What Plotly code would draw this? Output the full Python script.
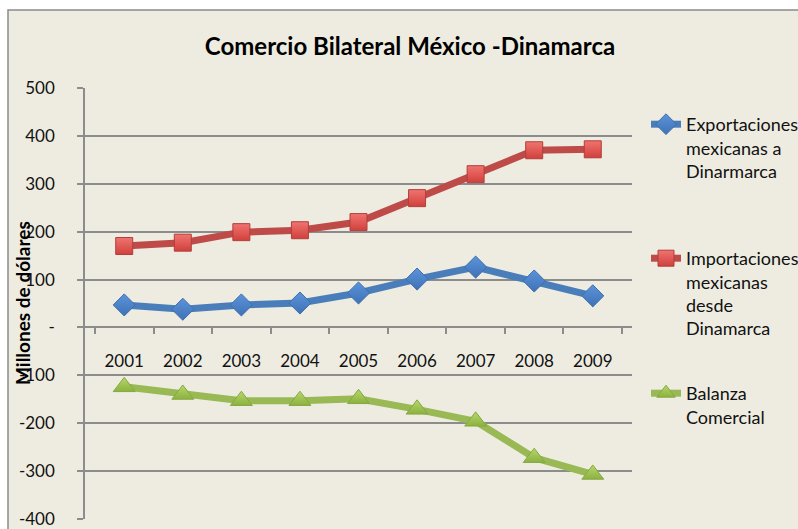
import plotly.graph_objects as go

years = ["2001", "2002", "2003", "2004", "2005", "2006", "2007", "2008", "2009"]
exportaciones = [47, 38, 47, 51, 72, 101, 126, 97, 66]
importaciones = [170, 177, 199, 203, 220, 270, 320, 370, 372]
balanza = [-124, -140, -153, -153, -149, -171, -196, -272, -307]

y_tickvals = [500, 400, 300, 200, 100, 0, -100, -200, -300, -400]
y_ticktext = ["500", "400", "300", "200", "100", "-", "-100", "-200", "-300", "-400"]

names = [
    "Exportaciones<br>mexicanas a<br>Dinarmarca",
    "Importaciones<br>mexicanas<br>desde<br>Dinamarca",
    "Balanza<br>Comercial",
]

W, H = 798, 529
# plot area in pixels
L, R, T, B = 85, 632, 88, 519

def px_x(p):  # px -> paper x
    return (p - L) / (R - L)

def px_y(p):  # px -> paper y
    return (B - p) / (B - T)

FONT = "Lato"
fig = go.Figure()

fig.add_trace(go.Scatter(
    x=years, y=exportaciones, name=names[0], mode="lines+markers",
    line=dict(color="#4A7EBB", width=7),
    marker=dict(symbol="diamond", size=17, color="#5B93DA",
                gradient=dict(type="vertical", color="#3F72B5"),
                line=dict(color="#3E6FAE", width=1)),
    legend="legend", showlegend=True,
))
fig.add_trace(go.Scatter(
    x=years, y=importaciones, name=names[1], mode="lines+markers",
    line=dict(color="#BE4B48", width=7),
    marker=dict(symbol="square", size=17, color="#F07470",
                gradient=dict(type="vertical", color="#D0403C"),
                line=dict(color="#B23E3B", width=1)),
    legend="legend2", showlegend=True,
))
fig.add_trace(go.Scatter(
    x=years, y=balanza, name=names[2], mode="lines+markers",
    line=dict(color="#98B954", width=7),
    marker=dict(symbol="triangle-up", size=19, color="#B5D86A",
                gradient=dict(type="vertical", color="#8DB13F"),
                line=dict(color="#86A844", width=1)),
    legend="legend3", showlegend=True,
))

legend_common = dict(
    font=dict(family=FONT, size=18, color="#111111"),
    bgcolor="rgba(0,0,0,0)", valign="top", xanchor="left", yanchor="top",
    itemclick=False,
)

fig.update_layout(
    width=W, height=H,
    showlegend=True,
    margin=dict(l=L, r=W - R, t=T, b=H - B, pad=0, autoexpand=False),
    paper_bgcolor="white",
    plot_bgcolor="rgba(0,0,0,0)",
    title=dict(text="<b>Comercio Bilateral México -Dinamarca</b>",
               font=dict(family=FONT, size=24, color="#000000"),
               x=410 / W, xanchor="center", y=1 - 47 / H, yanchor="middle"),
    xaxis=dict(
        type="category", anchor="free", position=400 / 900, automargin=False,
        showline=True, linecolor="#8C8C8C", linewidth=1.5,
        ticks="outside", tickson="boundaries", ticklen=6, tickcolor="#8C8C8C",
        tickwidth=1.5, showgrid=False,
        tickfont=dict(family=FONT, size=17, color="#111111"),
        ticklabelstandoff=18,
    ),
    yaxis=dict(
        range=[-400, 500], tickvals=y_tickvals, ticktext=y_ticktext, automargin=False,
        showline=True, linecolor="#8C8C8C", linewidth=1.5,
        ticks="outside", ticklen=6, tickcolor="#8C8C8C", tickwidth=1.5,
        showgrid=True, gridcolor="#8C8C8C", gridwidth=1.5, zeroline=False,
        tickfont=dict(family=FONT, size=17, color="#111111"),
        ticklabelstandoff=19,
    ),
    legend=dict(x=px_x(646), y=px_y(106), **legend_common),
    legend2=dict(x=px_x(646), y=px_y(240), **legend_common),
    legend3=dict(x=px_x(646), y=px_y(375), **legend_common),
    shapes=[dict(type="rect", xref="paper", yref="paper",
                 x0=px_x(8), x1=px_x(820), y0=px_y(545), y1=px_y(10),
                 fillcolor="#EEECE1", line=dict(color="#8A8A8A", width=1.5),
                 layer="below")],
    annotations=[dict(text="<b>Millones de dólares</b>", xref="paper", yref="paper",
                      x=px_x(22), y=px_y(303), xanchor="center", yanchor="middle",
                      textangle=-90, showarrow=False,
                      font=dict(family=FONT, size=19, color="#000000"))],
)

fig.write_html(
    "out.html",
    config={"displayModeBar": False},
    post_script="document.body.style.margin='0';document.body.style.overflow='hidden';",
)
